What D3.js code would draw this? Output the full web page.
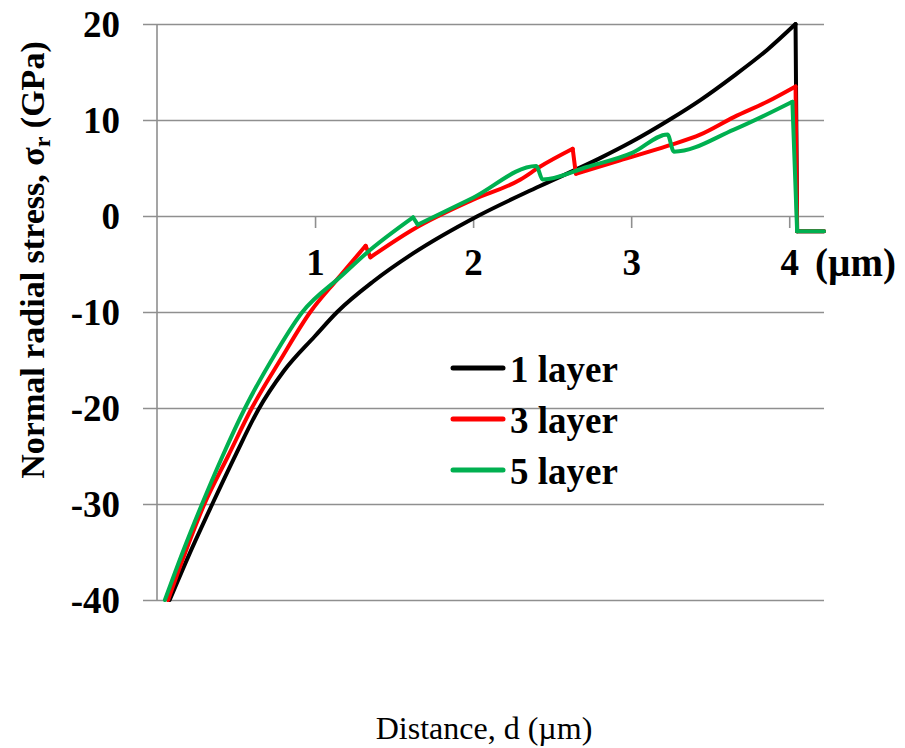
<!DOCTYPE html>
<html>
<head>
<meta charset="utf-8">
<script src="https://cdn.jsdelivr.net/npm/d3@7"></script>
<style>
  body { margin: 0; background: #fff; }
  svg { display: block; }
  text { font-family: "Liberation Serif", "Times New Roman", serif; fill: #000; }
</style>
</head>
<body>
<svg id="chart" width="905" height="748"></svg>
<script>
// distance d (um) and radial stress (GPa)
var oneLayerX = [0.08, 0.2, 0.35, 0.5, 0.64, 0.8, 1.0, 1.14, 1.37, 1.62, 2.03, 2.42, 2.8, 3.0, 3.25, 3.44, 3.65, 3.86, 4.04, 4.05, 4.22];
var oneLayerY = [-40, -35.4, -30, -24.8, -20.2, -16.2, -12.5, -10, -6.8, -3.9, 0, 3.1, 6.0, 7.7, 10.1, 12.1, 14.6, 17.3, 20, -1.6, -1.6];

var threeLayerX = [0.07, 0.18, 0.30, 0.45, 0.60, 0.78, 0.97, 1.14, 1.32, 1.35, 1.62, 2.0, 2.30, 2.42, 2.63, 2.65, 2.93, 3.23, 3.44, 3.65, 3.86, 4.04, 4.05, 4.22];
var threeLayerY = [-40, -35, -30, -25, -20, -15, -10, -6.6, -3.1, -4.3, -1.4, 1.7, 3.8, 5.1, 7.0, 4.4, 5.8, 7.3, 8.5, 10.3, 11.9, 13.5, -1.6, -1.6];

var fiveLayerX = [0.05, 0.163, 0.285, 0.415, 0.557, 0.725, 0.92, 1.17, 1.33, 1.62, 1.65, 2.0, 2.40, 2.44, 2.72, 3.01, 3.23, 3.27, 3.65, 4.02, 4.05, 4.22];
var fiveLayerY = [-40, -35, -30, -25, -20, -15, -10, -6.2, -3.8, -0.15, -0.9, 1.9, 5.2, 3.8, 5.1, 6.6, 8.5, 6.7, 9.0, 11.9, -1.6, -1.6];

var seriesNames = ["1 layer", "3 layer", "5 layer"];
var seriesColors = ["#000000", "#ff0000", "#00b050"];
var yTicks = [-40, -30, -20, -10, 0, 10, 20];
var xTicks = [1, 2, 3, 4];

var svg = d3.select("#chart");

var x = d3.scaleLinear().domain([0, 4.22]).range([157, 824]);
var y = d3.scaleLinear().domain([-40, 20]).range([600, 24]);

var gridColor = "#8f8f8f";

// horizontal grid lines, they also make the little ticks left of the axis
var grid = svg.append("g")
    .attr("transform", "translate(143,0)")
    .call(d3.axisLeft(y).tickValues(yTicks).tickSize(-(824 - 143)).tickFormat(""));
grid.select(".domain").remove();
grid.selectAll("line").attr("stroke", gridColor).attr("stroke-width", 1.6);

// y labels (plain hyphen for the minus, like the original)
var yAxis = svg.append("g")
    .attr("transform", "translate(157,0)")
    .call(d3.axisLeft(y).tickValues(yTicks).tickSize(0).tickPadding(37)
        .tickFormat(function(d) { return String(d); }));
yAxis.select(".domain").remove();
yAxis.selectAll("text")
    .style("font-size", "37px")
    .style("font-weight", "bold")
    .attr("dy", "0.33em");

// vertical axis line
svg.append("line")
    .attr("x1", x(0)).attr("x2", x(0))
    .attr("y1", y(20)).attr("y2", y(-40))
    .attr("stroke", gridColor).attr("stroke-width", 1.6);

// x ticks on the zero line
var xAxis = svg.append("g")
    .attr("transform", "translate(0," + y(0) + ")")
    .call(d3.axisBottom(x).tickValues(xTicks).tickSize(12).tickPadding(21).tickFormat(d3.format("d")));
xAxis.select(".domain").remove();
xAxis.selectAll("line").attr("stroke", gridColor).attr("stroke-width", 1.6);
xAxis.selectAll("text")
    .style("font-size", "37px")
    .style("font-weight", "bold")
    .attr("text-anchor", "middle");

svg.append("text")
    .attr("x", 815).attr("y", 276)
    .style("font-size", "39px")
    .style("font-weight", "bold")
    .text("(\u00b5m)");

// curves: smooth pieces between the jumps, straight lines for the jumps
var smooth = d3.line()
    .x(function(d) { return x(d[0]); })
    .y(function(d) { return y(d[1]); })
    .curve(d3.curveMonotoneX);
var straight = d3.line()
    .x(function(d) { return x(d[0]); })
    .y(function(d) { return y(d[1]); });

function splitAtJumps(pts) {
    var pieces = [[pts[0]]], jumps = [];
    for (var i = 1; i < pts.length; i++) {
        if (pts[i][0] - pts[i - 1][0] < 0.035) {
            jumps.push([pts[i - 1], pts[i]]);
            pieces.push([pts[i]]);
        } else {
            pieces[pieces.length - 1].push(pts[i]);
        }
    }
    return { pieces: pieces, jumps: jumps };
}

var series = [
    d3.zip(oneLayerX, oneLayerY),
    d3.zip(threeLayerX, threeLayerY),
    d3.zip(fiveLayerX, fiveLayerY)
];

series.forEach(function(pts, i) {
    var parts = splitAtJumps(pts);
    var g = svg.append("g")
        .attr("fill", "none")
        .attr("stroke", seriesColors[i])
        .attr("stroke-width", 4)
        .attr("stroke-linejoin", "round")
        .attr("stroke-linecap", "round");
    g.selectAll("path.piece")
        .data(parts.pieces.filter(function(p) { return p.length > 1; }))
        .join("path")
        .attr("class", "piece")
        .attr("d", smooth);
    g.selectAll("path.jump")
        .data(parts.jumps)
        .join("path")
        .attr("class", "jump")
        .attr("d", straight);
});

// legend
var legend = svg.append("g").selectAll("g")
    .data(seriesNames)
    .join("g")
    .attr("transform", function(d, i) { return "translate(453," + (368 + i * 51) + ")"; });

legend.append("line")
    .attr("x1", 0).attr("x2", 50)
    .attr("stroke", function(d, i) { return seriesColors[i]; })
    .attr("stroke-width", 5)
    .attr("stroke-linecap", "round");

legend.append("text")
    .attr("x", 57).attr("y", 14)
    .style("font-size", "37px")
    .style("font-weight", "bold")
    .text(function(d) { return d; });

// axis titles
var yTitle = svg.append("text")
    .attr("transform", "translate(44,260) rotate(-90)")
    .attr("text-anchor", "middle")
    .style("font-size", "34px")
    .style("font-weight", "bold");
yTitle.append("tspan").text("Normal radial stress, \u03c3");
yTitle.append("tspan").attr("dy", 6).style("font-size", "24px").text("r");
yTitle.append("tspan").attr("dy", -6).text(" (GPa)");

svg.append("text")
    .attr("x", 484).attr("y", 739)
    .attr("text-anchor", "middle")
    .style("font-size", "32px")
    .text("Distance, d (\u00b5m)");
</script>
</body>
</html>
